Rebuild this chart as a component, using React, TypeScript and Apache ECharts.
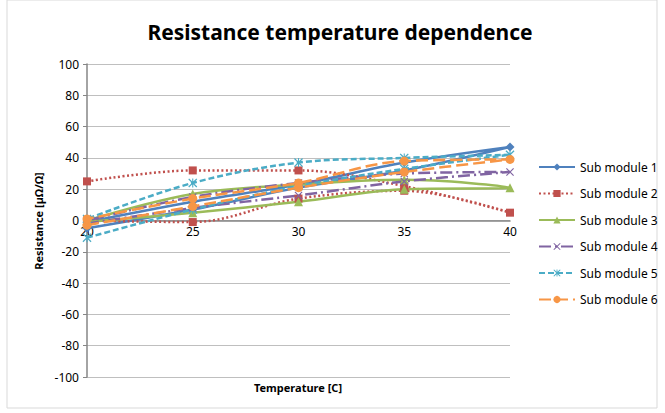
import React, { useEffect, useRef } from "react";
import * as echarts from "echarts";

const temps = [20, 25, 30, 35, 40, 35, 30, 25, 20];
const seriesNames = ["Sub module 1", "Sub module 2", "Sub module 3", "Sub module 4", "Sub module 5", "Sub module 6"];
const s1 = [-5, 7, 21, 32, 47, 37, 23, 12, -1];
const s2 = [25, 32, 32, 22, 5, 19, 14, -1, 0];
const s3 = [-1, 5, 12, 20, 21, 26, 23, 17, 0];
const s4 = [-2, 8, 16, 25, 31, 30, 24, 15, 0];
const s5 = [-11, 7, 22, 33, 42, 40, 37, 24, 1];
const s6 = [-3, 9, 21, 31, 39, 38, 24, 14, 1];
const yTicks = { min: -100, max: 100, interval: 20 };
const xTicks = { min: 20, max: 40, interval: 5 };

const FONT = "Noto Sans";
const crossPath = "path://M1,0 L5,4 L9,0 L10,1 L6,5 L10,9 L9,10 L5,6 L1,10 L0,9 L4,5 L0,1 Z";
const starPath =
  "path://M1,0 L5,4 L9,0 L10,1 L6,5 L10,9 L9,10 L5,6 L1,10 L0,9 L4,5 L0,1 Z M4.4,0 L5.6,0 L5.6,10 L4.4,10 Z";

export default function App() {
  const ref = useRef<HTMLDivElement>(null);
  useEffect(() => {
    if (!ref.current) return;
    const chart = echarts.init(ref.current, undefined, { renderer: "svg" });
    const values = [s1, s2, s3, s4, s5, s6];
    const colors = ["#4F81BD", "#C0504D", "#9BBB59", "#8064A2", "#4BACC6", "#F79646"];
    const dashes: any[] = ["solid", [2, 2.5], "solid", [12, 4, 2, 4], [6, 3], [12, 5]];
    const symbols = ["diamond", "rect", "triangle", crossPath, starPath, "circle"];
    const sizes = [9, 8, 9, 8, 9, 9];
    const gridTop = 64;
    const gridBottom = 36;
    const plotH = 413 - gridTop - gridBottom;
    // x axis crosses the y axis at 0 (Excel style)
    const zeroOffset = -plotH * (0 - yTicks.min) / (yTicks.max - yTicks.min);
    const series = values.map((v, i) => ({
      name: seriesNames[i],
      type: "line",
      smooth: 0.35,
      data: v.map((y, k) => [temps[k], y]),
      symbol: symbols[i],
      symbolSize: sizes[i],
      showSymbol: true,
      lineStyle: { color: colors[i], width: 2.5, type: dashes[i] },
      itemStyle: { color: colors[i] },
      emphasis: { disabled: true },
    }));
    chart.setOption({
      animation: false,
      textStyle: { fontFamily: FONT },
      grid: { left: 87, right: 155, top: gridTop, bottom: gridBottom },
      legend: {
        orient: "vertical",
        left: 533,
        top: 156,
        itemWidth: 36,
        itemHeight: 9,
        itemGap: 14.5,
        textStyle: { fontSize: 12, color: "#000", fontFamily: FONT },
        data: seriesNames,
      },
      xAxis: {
        type: "value",
        position: "bottom",
        offset: zeroOffset,
        min: xTicks.min,
        max: xTicks.max,
        interval: xTicks.interval,
        axisLine: { onZero: false, lineStyle: { color: "#868686", width: 1.5 } },
        axisTick: { show: false },
        splitLine: { show: false },
        axisLabel: { color: "#000", fontSize: 12, margin: 5 },
      },
      yAxis: {
        type: "value",
        min: yTicks.min,
        max: yTicks.max,
        interval: yTicks.interval,
        axisLine: { show: true, onZero: false, lineStyle: { color: "#868686", width: 1.5 } },
        axisTick: { show: true, length: 4, lineStyle: { color: "#868686" } },
        splitLine: { lineStyle: { color: "#BFBFBF", width: 1 } },
        axisLabel: { color: "#000", fontSize: 12, margin: 8 },
      },
      graphic: [
        {
          type: "rect",
          shape: { x: 7, y: 0, width: 650, height: 408 },
          style: { fill: "none", stroke: "#D9D9D9", lineWidth: 1 },
          silent: true,
        },
        {
          type: "text",
          x: 340,
          y: 32,
          style: {
            text: "Resistance temperature dependence",
            fontFamily: FONT,
            fontWeight: "bold",
            fontSize: 21,
            fill: "#000",
            align: "center",
            verticalAlign: "middle",
          },
        },
        {
          type: "text",
          x: 38,
          y: 221,
          rotation: Math.PI / 2,
          style: {
            text: "Resistance [µΩ/Ω]",
            fontFamily: FONT,
            fontWeight: "bold",
            fontSize: 11,
            fill: "#000",
            align: "center",
            verticalAlign: "middle",
          },
        },
        {
          type: "text",
          x: 298,
          y: 387,
          style: {
            text: "Temperature [C]",
            fontFamily: FONT,
            fontWeight: "bold",
            fontSize: 11,
            fill: "#000",
            align: "center",
            verticalAlign: "middle",
          },
        },
      ],
      series,
    });
    return () => chart.dispose();
  }, []);
  return (
    <div
      ref={ref}
      style={{ position: "absolute", left: 0, top: 0, width: 665, height: 413, background: "#fff" }}
    />
  );
}
